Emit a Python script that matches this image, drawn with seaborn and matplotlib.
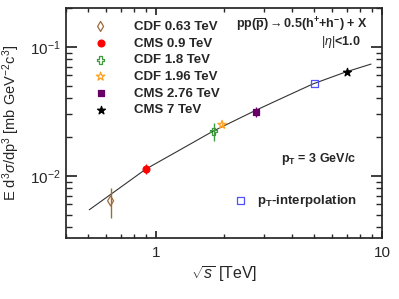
import numpy as np
import matplotlib
matplotlib.use('Agg')
import matplotlib.pyplot as plt
from matplotlib.ticker import NullFormatter
import seaborn as sns

# measured points (sqrt(s) in TeV, invariant yield at pT = 3 GeV/c)
energies = [0.63, 0.9, 1.8, 1.96, 2.76, 7.0]
labels = ['CDF 0.63 TeV', 'CMS 0.9 TeV', 'CDF 1.8 TeV', 'CDF 1.96 TeV', 'CMS 2.76 TeV', 'CMS 7 TeV']
yields = [0.0064, 0.0113, 0.0222, 0.0249, 0.0315, 0.0638]
err_lo = [0.0017, 0.0010, 0.0035, 0.0008, 0.0029, 0.0]
err_hi = [0.0017, 0.0010, 0.0036, 0.0008, 0.0027, 0.0]

# pT-interpolated point
interp_x = [5.02]
interp_y = [0.0518]

# fit curve
curve_x = [0.507, 0.693, 0.903, 1.277, 1.78, 2.74, 3.72, 4.95, 6.9, 8.94]
curve_y = [0.00546, 0.00809, 0.0113, 0.0159, 0.0221, 0.032, 0.041, 0.0516, 0.0638, 0.0735]

colors = ['#9c6b3a', '#ff0000', '#3f9a3f', '#ffa020', '#660066', '#000000']
markers = ['d', 'o', 'P', '*', 's', '*']
filled = [False, True, False, False, True, True]
sizes = [26, 24, 28, 40, 20, 36]

sns.set_theme(style='ticks')
plt.rcParams['font.family'] = ['Liberation Sans', 'DejaVu Sans']
plt.rcParams['mathtext.fontset'] = 'custom'
plt.rcParams['mathtext.rm'] = 'Liberation Sans'
plt.rcParams['mathtext.it'] = 'Liberation Sans:italic'
plt.rcParams['mathtext.bf'] = 'Liberation Sans:bold'
plt.rcParams['mathtext.sf'] = 'Liberation Sans'

fig = plt.figure(figsize=(3.99, 2.99), dpi=100)
ax = fig.add_axes([66 / 399, 61 / 299, 316 / 399, 230 / 299])

sns.lineplot(x=curve_x, y=curve_y, ax=ax, color='#333333', linewidth=0.8, sort=True)

for i in range(len(energies)):
    ax.errorbar([energies[i]], [yields[i]], yerr=[[err_lo[i]], [err_hi[i]]],
                fmt='none', ecolor=colors[i], elinewidth=1.0, capsize=0, zorder=3)
    sns.scatterplot(x=[energies[i]], y=[yields[i]], ax=ax, marker=markers[i], s=sizes[i],
                    facecolor=colors[i] if filled[i] else 'none', edgecolor=colors[i],
                    linewidth=0.9, label=labels[i], zorder=4)

interp_h = ax.scatter(interp_x, interp_y, marker='s', s=26, facecolor='none',
                      edgecolor='#5050ff', linewidth=0.9, zorder=4)

ax.set_xscale('log')
ax.set_yscale('log')
ax.set_xlim(0.4, 10)
ax.set_ylim(0.0033, 0.2)

ax.set_xticks([1, 10])
ax.set_xticklabels(['1', '10'])
ax.xaxis.set_minor_formatter(NullFormatter())
ax.yaxis.set_minor_formatter(NullFormatter())
ax.tick_params(which='both', direction='in', top=True, right=True, labelsize=11)
ax.tick_params(axis='y', which='major', length=8)
ax.tick_params(axis='y', which='minor', length=4.5)
ax.tick_params(axis='x', which='major', length=5, pad=6)
ax.tick_params(axis='x', which='minor', length=3)

ax.set_xlabel(r'$\sqrt{s}$ [TeV]', fontsize=11.5, labelpad=3)
ax.set_ylabel(r'E d$^{3}\sigma$/dp$^{3}$ [mb GeV$^{-2}$c$^{3}$]', fontsize=10.5, labelpad=6)

handles, labs = ax.get_legend_handles_labels()
main_h = [h for h, l in zip(handles, labs) if l in labels]
main_l = [l for l in labs if l in labels]
leg = ax.legend(main_h, main_l, loc='upper left', bbox_to_anchor=(0.0886, 0.945),
                frameon=False, borderaxespad=0, borderpad=0, handlelength=1.0,
                handletextpad=2.0, labelspacing=0.34, prop={'weight': 'bold', 'size': 9.5})
ax.add_artist(leg)
ax.legend([interp_h], [r'$\mathbf{p_{T}}$-interpolation'], loc='center left',
          bbox_to_anchor=(0.53, 0.161), frameon=False, borderaxespad=0, borderpad=0,
          handlelength=1.0, handletextpad=0.8, prop={'weight': 'bold', 'size': 9.5})

ax.text(0.955, 0.926, r'pp($\mathbf{\overline{p}}$)$\rightarrow$0.5(h$^{\mathbf{+}}$+h$^{\mathbf{-}}$) + X',
        transform=ax.transAxes, ha='right', va='center', fontsize=9, fontweight='bold')
ax.text(0.933, 0.852, r'$|\eta|$<1.0', transform=ax.transAxes,
        ha='right', va='center', fontsize=9, fontweight='bold')
ax.text(0.917, 0.343, r'$\mathbf{p_{T}}$ = 3 GeV/c', transform=ax.transAxes,
        ha='right', va='center', fontsize=9, fontweight='bold')

fig.savefig('out.png', dpi=100)
